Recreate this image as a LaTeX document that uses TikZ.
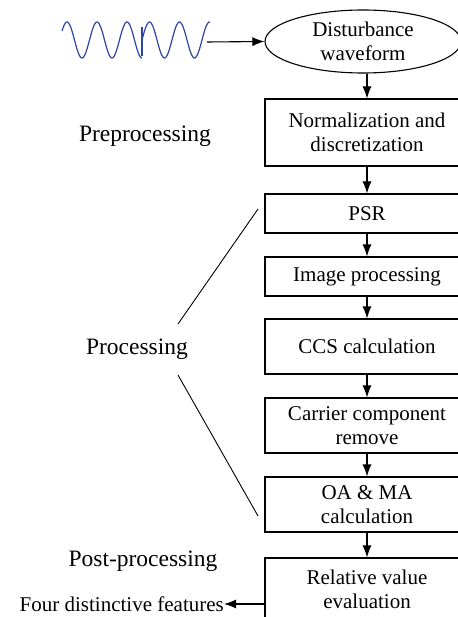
\documentclass[tikz,border=0pt]{standalone}
\usepackage{fontspec}
\setmainfont{Liberation Serif}
\usetikzlibrary{arrows.meta,shapes.geometric}
\definecolor{wave}{RGB}{45,70,160}
\tikzset{
  box/.style={draw, line width=1.1pt, minimum width=204pt, align=center, inner sep=0pt,
    font=\rmfamily\fontsize{21}{24}\selectfont},
  lbl/.style={font=\rmfamily\fontsize{23.5}{26}\selectfont, inner sep=0pt},
  flow/.style={line width=1.1pt, -{Latex[length=12pt,width=9pt]}},
  brace/.style={line width=0.9pt}
}
\begin{document}
\begin{tikzpicture}[x=1pt,y=-1pt]
\useasboundingbox (0,0) rectangle (457,617);
% waveform
\draw[wave, line width=1.2pt, domain=62:142, samples=120, smooth] plot (\x,{40-18*cos(12*(\x-67))});
\draw[wave, line width=1.2pt, domain=142:210, samples=100, smooth] plot (\x,{40-18*sin(12*(\x-142))});
\draw[wave, line width=1.4pt] (142,27) -- (142,56);
\coordinate (wend) at (207,42);
% nodes
\node[draw, ellipse, line width=1.1pt, minimum width=196pt, minimum height=63pt, inner sep=0pt,
  align=center, font=\rmfamily\fontsize{21}{24}\selectfont] (dist) at (363,41.5) {Disturbance\\waveform};
\node[box, minimum height=67pt] (norm) at (367,132.5) {Normalization and\\discretization};
\node[box, minimum height=39pt] (psr) at (367,213.5) {PSR};
\node[box, minimum height=39pt] (img) at (367,276.5) {Image processing};
\node[box, minimum height=55pt] (ccs) at (367,346.5) {CCS calculation};
\node[box, minimum height=55pt] (car) at (367,425.5) {Carrier component\\remove};
\node[box, minimum height=55pt] (oa) at (367,504.5) {OA \& MA\\calculation};
\node[box, minimum height=62pt] (rel) at (367,589) {Relative value\\evaluation};
% labels
\node[lbl] (pre) at (145,136) {Preprocessing};
\node[lbl] (proc) at (137,349) {Processing};
\node[lbl] (post) at (143,561) {Post-processing};
\node[font=\rmfamily\fontsize{21}{24}\selectfont, inner sep=0pt, anchor=east] (four) at (224,604) {Four distinctive features};
% connectors
\draw[flow] (wend) -- (dist.west);
\draw[flow] (dist.south -| norm.north) -- (norm.north);
\draw[flow] (norm) -- (psr);
\draw[flow] (psr) -- (img);
\draw[flow] (img) -- (ccs);
\draw[flow] (ccs) -- (car);
\draw[flow] (car) -- (oa);
\draw[flow] (oa) -- (rel);
\coordinate (rw) at (265,604);
\draw[flow] (rw) -- (four.east);
% processing brackets
\coordinate (u1) at (178,324);
\coordinate (u2) at (258,209);
\coordinate (l1) at (178,375);
\coordinate (l2) at (258,516);
\draw[brace] (u1) -- (u2);
\draw[brace] (l1) -- (l2);
\end{tikzpicture}
\end{document}
